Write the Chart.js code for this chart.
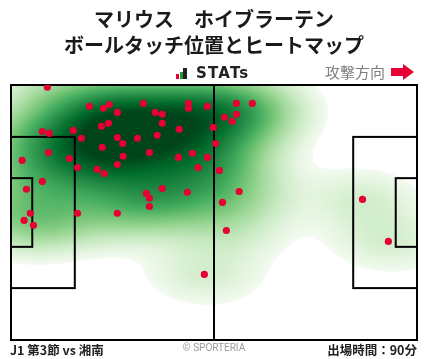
<!DOCTYPE html>
<html><head><meta charset="utf-8">
<script src="https://cdn.jsdelivr.net/npm/chart.js@4/dist/chart.umd.min.js"></script>
<style>
html,body{margin:0;padding:0;background:#fff;}
#wrap{position:relative;width:428px;height:359px;overflow:hidden;font-family:"Noto Sans CJK JP","Noto Sans",sans-serif;}
canvas{position:absolute;left:0;top:0;}
.t{position:absolute;white-space:nowrap;}
#title{left:0;width:428px;top:6px;text-align:center;font-weight:700;font-size:20px;line-height:26px;color:#1a1a1a;}
#stats{left:176px;top:63px;height:18px;}
#stats .b{position:absolute;bottom:2px;width:3px;}
#stats .txt{position:absolute;left:20px;top:1px;font-family:"DejaVu Sans",Roboto,sans-serif;font-weight:700;font-size:15px;letter-spacing:1.2px;color:#222;}
#dir{left:325px;top:61px;font-size:15px;color:#808080;}
#arrow{left:390px;top:63px;}
#foot1{left:10px;top:340px;font-size:12.5px;font-weight:700;color:#222;}
#copy{left:0;width:428px;text-align:center;top:342px;font-size:10px;color:#999;font-family:Roboto,sans-serif;}
#foot2{right:11px;top:340px;font-size:12.5px;font-weight:700;color:#222;}
</style></head>
<body><div id="wrap">
<canvas id="c" width="428" height="359"></canvas>
<div class="t" id="title">マリウス　ホイブラーテン<br>ボールタッチ位置とヒートマップ</div>
<div class="t" id="stats"><div class="b" style="left:0;height:5px;background:#e60033"></div><div class="b" style="left:3.5px;height:7px;background:#1e9a3c"></div><div class="b" style="left:7px;height:11px;width:3.5px;background:#222"></div><span class="txt">STATs</span></div>
<div class="t" id="dir">攻撃方向</div>
<svg class="t" id="arrow" width="26" height="18" viewBox="0 0 26 18"><path d="M1 5 H13 V1 L24 9 L13 17 V13 H1 Z" fill="#e60033"/></svg>
<div class="t" id="foot1">J1 第3節 vs 湘南</div>
<div class="t" id="copy">© SPORTERIA</div>
<div class="t" id="foot2">出場時間：90分</div>
</div>
<script>
// Ball touch positions (metres; x = attacking direction 0..105, y = 0 (top) .. 68)
const touchX = [9.4,20.3,23.9,25.4,27.5,34.2,37.3,39.1,39.1,45.9,45.9,50.8,58.3,62.4,55.2,58.3,57.2,
  8.1,9.9,16.1,23.4,25.2,18.2,27.5,28.9,23.6,32.7,37.8,43.5,52.3,52.9,9.7,35.8,46.9,15.1,2.9,17.2,
  29.0,27.5,22.3,24.1,43.3,50.8,48.4,53.9,8.1,4.0,39.1,45.6,35.0,35.8,35.8,59.0,54.7,5.0,17.2,27.5,
  3.4,5.8,55.7,50.0,90.9,97.6];
const touchY = [0.6,5.7,6.2,5.2,7.3,4.9,7.3,7.8,10.2,4.9,6.2,5.7,4.9,4.9,8.6,7.8,9.7,
  12.4,12.9,12.1,11.0,10.2,14.2,14.0,15.6,16.6,14.2,13.4,11.8,11.3,15.6,18.0,18.0,18.2,19.6,20.1,22.0,
  19.0,21.2,22.5,23.6,19.3,19.3,22.0,22.8,25.7,27.8,27.6,28.6,28.9,30.2,32.4,28.4,31.3,34.2,34.2,34.2,
  36.1,37.4,38.8,50.5,30.5,41.7];
const PITCH_L = 105, PITCH_W = 68;
const BW_ADJUST = 1.0, THRESH = 0.025, GAMMA = 0.6, VMAX = 0.85;

// Gaussian KDE (Scott's rule) derived from the touch positions
function buildKde(xs, ys){
  const n = xs.length;
  const mx = xs.reduce((a,b)=>a+b,0)/n, my = ys.reduce((a,b)=>a+b,0)/n;
  let sxx=0, syy=0, sxy=0;
  for(let i=0;i<n;i++){const dx=xs[i]-mx, dy=ys[i]-my; sxx+=dx*dx; syy+=dy*dy; sxy+=dx*dy;}
  sxx/=(n-1); syy/=(n-1); sxy/=(n-1);
  const f2 = Math.pow(n, -2/6)*BW_ADJUST*BW_ADJUST;
  const a=sxx*f2, d=syy*f2, b=sxy*f2, det=a*d-b*b;
  const ia=d/det, id=a/det, ib=-b/det;
  return (x,y)=>{let s=0; for(let i=0;i<n;i++){const dx=x-xs[i], dy=y-ys[i]; s+=Math.exp(-0.5*(ia*dx*dx+2*ib*dx*dy+id*dy*dy));} return s;};
}
const GREENS=[[247,252,245],[229,245,224],[199,233,192],[161,217,155],[116,196,118],[65,171,93],[35,139,69],[0,109,44],[0,68,27]];
function greens(t){t=Math.max(0,Math.min(1,t)); const s=t*8, i=Math.min(7,Math.floor(s)), f=s-i; const A=GREENS[i],B=GREENS[i+1]; return [A[0]+(B[0]-A[0])*f,A[1]+(B[1]-A[1])*f,A[2]+(B[2]-A[2])*f];}

const dens = buildKde(touchX, touchY);

const pitchPlugin = {
  id:'pitch',
  beforeDatasetsDraw(chart){
    const {ctx, chartArea:ca, scales:{x:sx, y:sy}} = chart;
    const w=Math.round(ca.right-ca.left), h=Math.round(ca.bottom-ca.top);
    const grid=new Float64Array(w*h); let mx=0;
    for(let j=0;j<h;j++){
      const yv=sy.getValueForPixel(ca.top+j+0.5);
      for(let i=0;i<w;i++){
        const v=dens(sx.getValueForPixel(ca.left+i+0.5),yv);
        grid[j*w+i]=v; if(v>mx) mx=v;
      }
    }
    const off=document.createElement('canvas'); off.width=w; off.height=h;
    const octx=off.getContext('2d'); const img=octx.createImageData(w,h);
    for(let k=0;k<w*h;k++){
      const v=grid[k]/mx;
      let c=[255,255,255];
      if(v>=THRESH) c=greens(Math.pow(Math.min(1,(v-THRESH)/(VMAX-THRESH)),GAMMA));
      img.data[4*k]=c[0];img.data[4*k+1]=c[1];img.data[4*k+2]=c[2];img.data[4*k+3]=255;
    }
    octx.putImageData(img,0,0);
    ctx.save();
    ctx.drawImage(off, ca.left, ca.top);
    ctx.strokeStyle='#000'; ctx.lineWidth=2;
    const X=v=>sx.getPixelForValue(v), Y=v=>sy.getPixelForValue(v);
    const rect=(x0,y0,x1,y1)=>{ctx.strokeRect(X(x0),Y(y0),X(x1)-X(x0),Y(y1)-Y(y0));};
    rect(0,0,PITCH_L,PITCH_W);
    ctx.beginPath(); ctx.moveTo(X(PITCH_L/2),Y(0)); ctx.lineTo(X(PITCH_L/2),Y(PITCH_W)); ctx.stroke();
    const pbH=40.32, gaH=18.32;
    rect(0,(PITCH_W-pbH)/2,16.5,(PITCH_W+pbH)/2);
    rect(0,(PITCH_W-gaH)/2,5.5,(PITCH_W+gaH)/2);
    rect(PITCH_L-16.5,(PITCH_W-pbH)/2,PITCH_L,(PITCH_W+pbH)/2);
    rect(PITCH_L-5.5,(PITCH_W-gaH)/2,PITCH_L,(PITCH_W+gaH)/2);
    ctx.restore();
  }
};

new Chart(document.getElementById('c'), {
  type:'scatter',
  data:{datasets:[{data:touchX.map((x,i)=>({x, y:touchY[i]})), pointRadius:3.6, pointHoverRadius:3.6,
    backgroundColor:'#e60033', borderWidth:0}]},
  options:{responsive:false, animation:false, events:[],
    layout:{padding:{left:11,right:11,top:85,bottom:19}},
    plugins:{legend:{display:false}, tooltip:{enabled:false}},
    scales:{x:{type:'linear',min:0,max:PITCH_L,display:false},
            y:{type:'linear',min:0,max:PITCH_W,reverse:true,display:false}}},
  plugins:[pitchPlugin]
});
</script>
</body></html>
